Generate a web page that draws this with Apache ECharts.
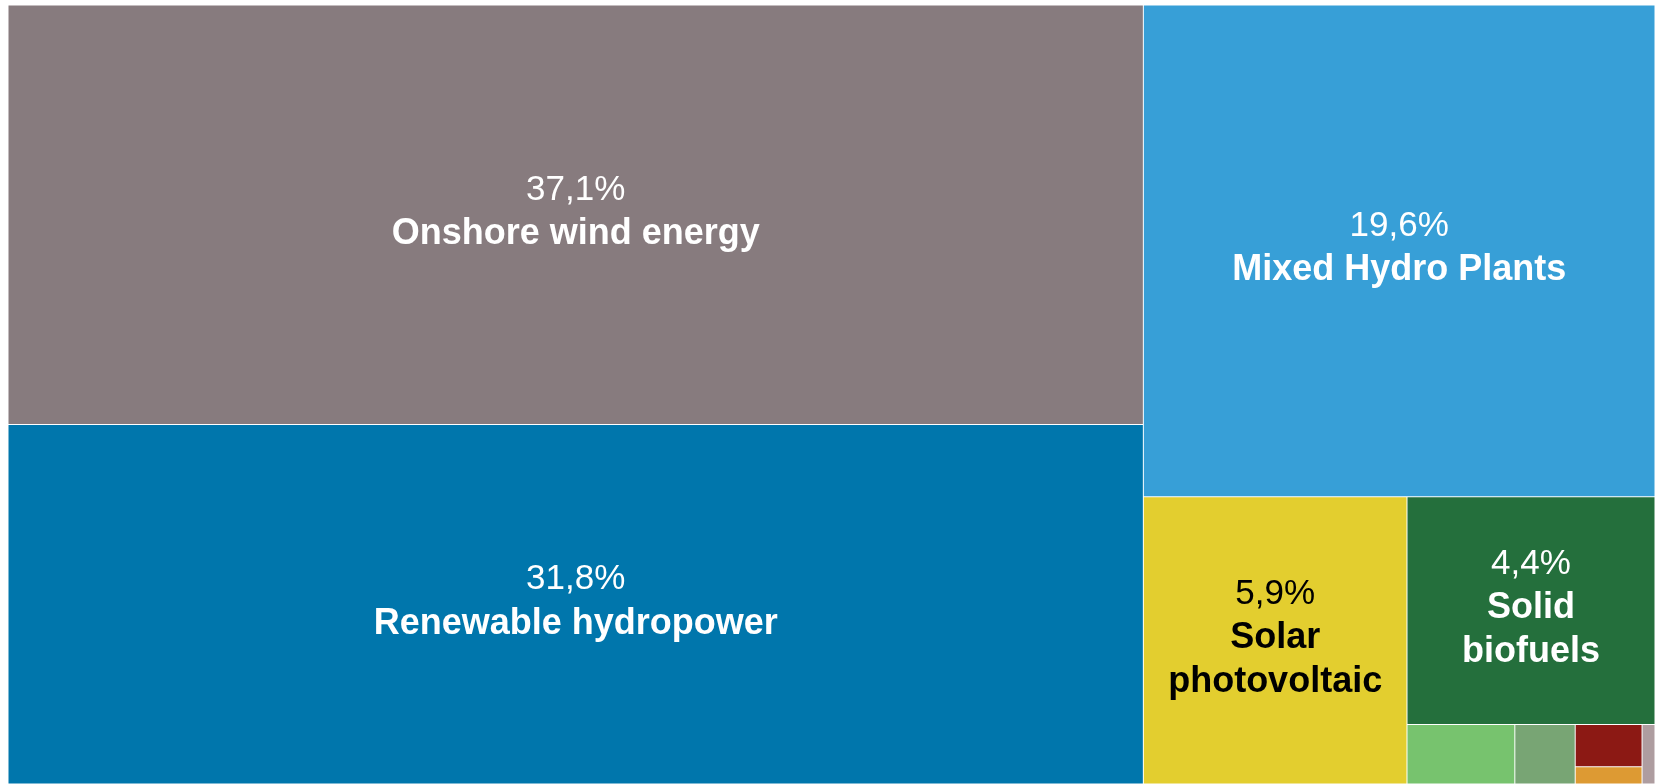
<!DOCTYPE html>
<html>
<head>
<meta charset="utf-8">
<script src="https://cdn.jsdelivr.net/npm/echarts@6/dist/echarts.min.js"></script>
<style>
html,body{margin:0;padding:0;background:#fff;}
#chart{width:1655px;height:784px;}
</style>
</head>
<body>
<div id="chart"></div>
<script>
const categories = [
  'Onshore wind energy',
  'Renewable hydropower',
  'Mixed Hydro Plants',
  'Solar photovoltaic',
  'Solid biofuels',
  'Biogases',
  'Renewable municipal waste',
  'Offshore wind energy',
  'Geothermal',
  'Solar thermal'
];
const values = [37.1, 31.8, 19.6, 5.9, 4.4, 0.50, 0.28, 0.22, 0.09, 0.06];
const colors = ['#877B7E', '#0076AC', '#379FD7', '#E3CE2F', '#246F3C', '#77C36E', '#78A574', '#8C1914', '#DD9A33', '#AE9DA0'];
const labelColors = ['#fff', '#fff', '#fff', '#000', '#fff', '#fff', '#fff', '#fff', '#fff', '#fff'];
const labelShown = [true, true, true, true, true, false, false, false, false, false];

const FONT = '"Liberation Sans", Arial, sans-serif';
const FS_P = 35, FS_N = 36, LH = 44, SIDE_MARGIN = 20, V_SHIFT = -3;

function fmt(v) { return v.toFixed(1).replace('.', ',') + '%'; }

const ctx = document.createElement('canvas').getContext('2d');
function textW(t) {
  ctx.font = 'bold ' + FS_N + 'px ' + FONT;
  return ctx.measureText(t).width;
}
function wrapName(name, maxW) {
  const words = name.split(' ');
  const lines = [];
  let cur = '';
  words.forEach(w => {
    const test = cur ? cur + ' ' + w : w;
    if (cur && textW(test) > maxW) { lines.push(cur); cur = w; }
    else cur = test;
  });
  if (cur) lines.push(cur);
  return lines;
}

let wrapped = categories.map(n => [n]);
let pads = categories.map(() => 0);

function buildOption() {
  const data = categories.map((name, i) => ({
    name: name,
    value: values[i],
    itemStyle: { color: colors[i] },
    label: {
      show: labelShown[i],
      color: labelColors[i],
      padding: [pads[i], 0, 0, 0],
      rich: {
        p: { fontSize: FS_P, fontWeight: 'normal', color: labelColors[i], lineHeight: LH, fontFamily: FONT, align: 'center' },
        n: { fontSize: FS_N, fontWeight: 'bold', color: labelColors[i], lineHeight: LH, fontFamily: FONT, align: 'center' }
      }
    }
  }));
  return {
    animation: false,
    backgroundColor: '#fff',
    series: [{
      type: 'treemap',
      left: 8,
      top: 5,
      right: 0,
      bottom: 0,
      roam: false,
      nodeClick: false,
      breadcrumb: { show: false },
      squareRatio: 1.8,
      visibleMin: 0,
      sort: 'desc',
      itemStyle: { borderWidth: 0.5, borderColor: 'rgba(255,255,255,0.6)', gapWidth: 0 },
      levels: [{ itemStyle: { borderWidth: 0, gapWidth: 0 } }],
      label: {
        show: true,
        position: 'inside',
        overflow: 'none',
        fontFamily: FONT,
        formatter: function (p) {
          const i = categories.indexOf(p.name);
          const lines = i >= 0 ? wrapped[i] : [p.name];
          return '{p|' + fmt(p.value) + '}\n' + lines.map(l => '{n|' + l + '}').join('\n');
        }
      },
      data: data
    }]
  };
}

const chart = echarts.init(document.getElementById('chart'), null, { renderer: 'canvas' });
chart.setOption(buildOption());

// Use the library's own computed layout to wrap and vertically center labels
try {
  const tree = chart.getModel().getSeriesByIndex(0).getData().tree;
  tree.root.children.forEach(node => {
    const i = categories.indexOf(node.name);
    if (i < 0) return;
    const l = node.getLayout();
    if (!l) return;
    wrapped[i] = wrapName(categories[i], l.width - 2 * SIDE_MARGIN);
    const contentH = (1 + wrapped[i].length) * LH;
    pads[i] = Math.max(0, (l.height - contentH) / 2 + V_SHIFT);
  });
  chart.setOption(buildOption());
} catch (e) { console.error(e); }
</script>
</body>
</html>
